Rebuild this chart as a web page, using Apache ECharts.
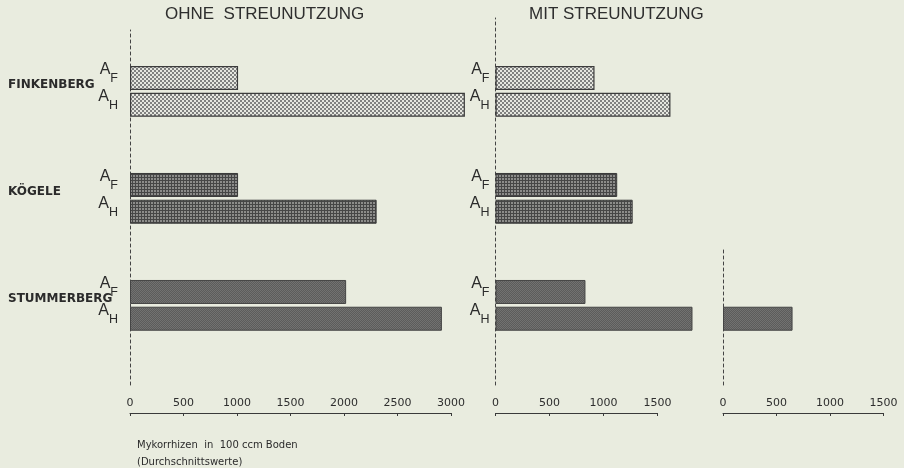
<!DOCTYPE html>
<html>
<head>
<meta charset="utf-8">
<script src="https://cdn.jsdelivr.net/npm/echarts@6/dist/echarts.min.js"></script>
<style>
  html, body { margin: 0; padding: 0; background: #e9ecdf; }
  #chart { width: 904px; height: 468px; }
</style>
</head>
<body>
<div id="chart"></div>
<script>
// ---- data ----
const sites = ['FINKENBERG', 'KÖGELE', 'STUMMERBERG'];
const panelTitles = ['OHNE  STREUNUTZUNG', 'MIT STREUNUTZUNG'];
const ohneAF = [1010, 1010, 2020];
const ohneAH = [3130, 2305, 2915];
const mitAF = [917, 1127, 833];
const mitAH = [1620, 1270, 1824];
const thirdAF = [null, null, null];
const thirdAH = [null, null, 650];
const ticksOhne = [0, 500, 1000, 1500, 2000, 2500, 3000];
const ticksMit = [0, 500, 1000, 1500];
const ticksThird = [0, 500, 1000, 1500];
const axisTitle1 = 'Mykorrhizen  in  100 ccm Boden';
const axisTitle2 = '(Durchschnittswerte)';

// ---- rows (category axis) ----
const rowKeys = [];
sites.forEach((s, i) => {
  if (i > 0) { rowKeys.push('gap' + i + 'a', 'gap' + i + 'b'); }
  rowKeys.push(s + '|F', s + '|H');
});

// ---- patterns ----
function makePattern(w, h, draw) {
  const c = document.createElement('canvas');
  c.width = w; c.height = h;
  draw(c.getContext('2d'));
  return { image: c, repeat: 'repeat' };
}
const finkPat = makePattern(4, 4, ctx => {
  ctx.fillStyle = '#e6e7e0'; ctx.fillRect(0, 0, 4, 4);
  ctx.fillStyle = '#808180'; ctx.fillRect(0, 0, 2, 2); ctx.fillRect(2, 2, 2, 2);
});
const kogPat = makePattern(3, 3, ctx => {
  ctx.fillStyle = '#8c8c8a'; ctx.fillRect(0, 0, 3, 3);
  ctx.fillStyle = '#464646'; ctx.fillRect(0, 0, 3, 1); ctx.fillRect(0, 0, 1, 3);
});
const stumPat = makePattern(2, 2, ctx => {
  ctx.fillStyle = '#5c5c5b'; ctx.fillRect(0, 0, 2, 2);
  ctx.fillStyle = '#727271'; ctx.fillRect(0, 0, 1, 1); ctx.fillRect(1, 1, 1, 1);
});
const siteStyles = [
  { color: finkPat, borderColor: '#3c3c3c', borderWidth: 1.2 },
  { color: kogPat, borderColor: '#383838', borderWidth: 1 },
  { color: stumPat, borderColor: '#444', borderWidth: 1 }
];

function panelData(af, ah) {
  return rowKeys.map(k => {
    if (k.startsWith('gap')) return '-';
    const [site, f] = k.split('|');
    const i = sites.indexOf(site);
    const v = f === 'F' ? af[i] : ah[i];
    if (v == null) return '-';
    return { value: v, itemStyle: siteStyles[i] };
  });
}

// ---- layout ----
const pxPerUnit = [0.107, 0.108, 0.107];
const zeroX = [130, 495.5, 723];
const barMax = [3500, 2000, 1500];
const axisMax = [ticksOhne[ticksOhne.length - 1], ticksMit[ticksMit.length - 1], ticksThird[ticksThird.length - 1]];
const dashTop = [30, 18, 247];
const H = 468;
const barTop = 64.6, barHeight = 267.5;
const axisLineY = 413, dashBottom = 385;

const grids = [], xAxes = [], yAxes = [], series = [];
const values = [[ohneAF, ohneAH], [mitAF, mitAH], [thirdAF, thirdAH]];
const showLabels = [true, true, false];
const labelMargin = [12, 6, 6];

for (let p = 0; p < 3; p++) {
  grids.push({ left: zeroX[p], width: barMax[p] * pxPerUnit[p], top: barTop, height: barHeight });
  xAxes.push({ gridIndex: p, type: 'value', min: 0, max: barMax[p], show: false });
  yAxes.push({
    gridIndex: p, type: 'category', data: rowKeys, inverse: true,
    axisLine: { show: false }, axisTick: { show: false }, splitLine: { show: false },
    axisLabel: {
      show: showLabels[p], margin: labelMargin[p], interval: 0,
      formatter: v => v.startsWith('gap') ? '' : '{a|A}{s|' + v.split('|')[1] + '}',
      padding: [0, 0, 9, 0],
      rich: {
        a: { fontSize: 16, fontFamily: 'Liberation Sans', color: '#2b2b2b', lineHeight: 16, verticalAlign: 'top' },
        s: { fontSize: 12.5, fontFamily: 'Liberation Sans', color: '#2b2b2b', lineHeight: 24, verticalAlign: 'bottom' }
      }
    }
  });
  series.push({
    type: 'bar', xAxisIndex: p, yAxisIndex: p, barWidth: 24,
    data: panelData(values[p][0], values[p][1])
  });
}
const tickSets = [ticksOhne, ticksMit, ticksThird];
for (let p = 0; p < 3; p++) {
  const gi = grids.length;
  grids.push({ left: zeroX[p], width: axisMax[p] * pxPerUnit[p], top: dashTop[p], bottom: H - dashBottom });
  const ts = tickSets[p];
  xAxes.push({
    gridIndex: gi, type: 'value', min: ts[0], max: ts[ts.length - 1], interval: ts[1] - ts[0],
    position: 'bottom', offset: axisLineY - dashBottom,
    axisLine: { show: true, onZero: false, lineStyle: { color: '#3a3a3a', width: 1 } },
    axisTick: { show: true, length: 3, lineStyle: { color: '#3a3a3a' } },
    splitLine: { show: false },
    axisLabel: { inside: true, margin: 4, fontSize: 11, fontFamily: 'DejaVu Sans', color: '#2e2e2e',
      showMinLabel: true, showMaxLabel: true, formatter: v => String(v) }
  });
  yAxes.push({
    gridIndex: gi, type: 'value', min: 0, max: 1,
    axisLine: { show: true, lineStyle: { color: '#444', width: 1, type: [3, 3] } },
    axisTick: { show: false }, axisLabel: { show: false }, splitLine: { show: false }
  });
}

const chart = echarts.init(document.getElementById('chart'), null, { renderer: 'canvas' });
const titleStyle = { fontSize: 17, fontWeight: 'normal', fontFamily: 'Liberation Sans', color: '#2e2e2e' };
chart.setOption({
  animation: false,
  backgroundColor: '#e9ecdf',
  title: [
    { text: panelTitles[0], left: 165, top: 6, padding: 0, textStyle: titleStyle },
    { text: panelTitles[1], left: 529, top: 6, padding: 0, textStyle: titleStyle }
  ],
  grid: grids, xAxis: xAxes, yAxis: yAxes, series: series
});

// site labels and axis caption
const graphics = sites.map((s, i) => {
  const y = chart.convertToPixel({ yAxisIndex: 0 }, rowKeys.indexOf(s + '|F'));
  return {
    type: 'text', x: 8, y: y + 7,
    style: { text: s, fontSize: 12, fontWeight: 'bold', fontFamily: 'DejaVu Sans', fill: '#2b2b2b', verticalAlign: 'middle' }
  };
});
graphics.push({ type: 'text', x: 137, y: 445,
  style: { text: axisTitle1, fontSize: 10, fontFamily: 'DejaVu Sans', fill: '#2b2b2b', verticalAlign: 'middle' } });
graphics.push({ type: 'text', x: 137, y: 462,
  style: { text: axisTitle2, fontSize: 10, fontFamily: 'DejaVu Sans', fill: '#2b2b2b', verticalAlign: 'middle' } });
chart.setOption({ graphic: graphics });
</script>
</body>
</html>
